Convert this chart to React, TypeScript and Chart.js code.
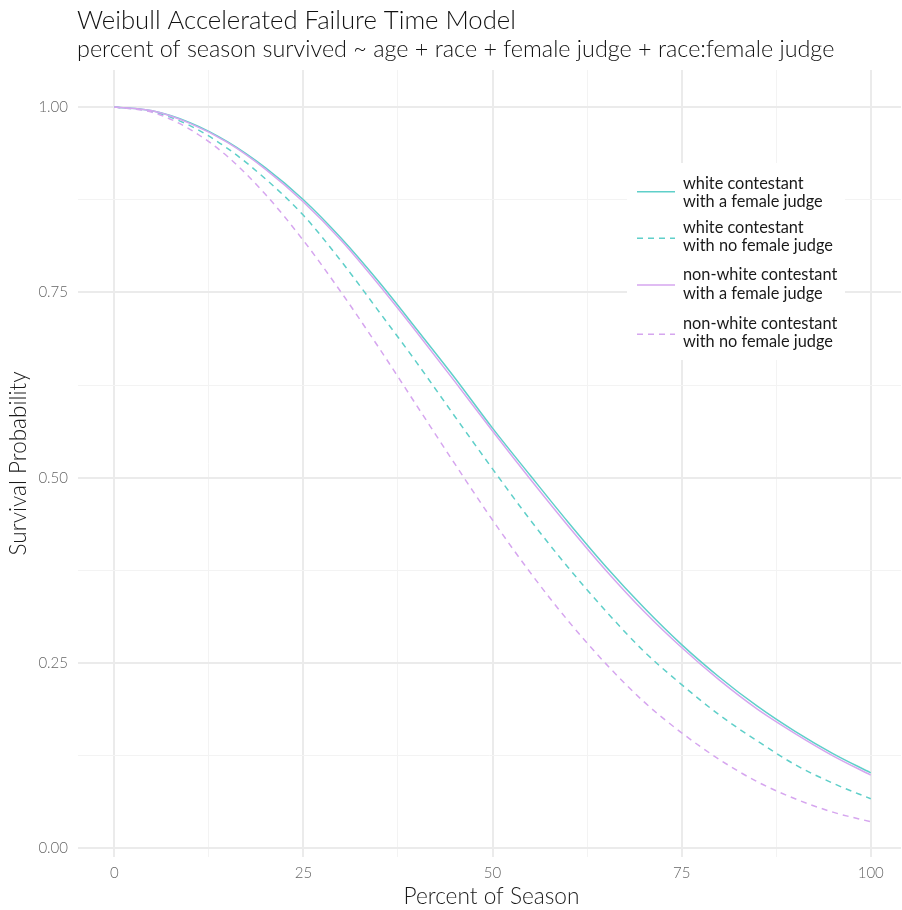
import React, { useEffect, useRef } from 'react';
import { Chart, registerables } from 'chart.js';

Chart.register(...registerables);

// ---------- data ----------
const percentSeason = [0, 5, 10, 15, 20, 25, 30, 35, 40, 45, 50, 55, 60, 65, 70, 75, 80, 85, 90, 95, 100];

const whiteFemaleJudge = [1.0, 0.995, 0.979, 0.953, 0.918, 0.875, 0.823, 0.764, 0.7, 0.635, 0.567, 0.503, 0.44, 0.38, 0.325, 0.275, 0.231, 0.192, 0.158, 0.128, 0.102];
const whiteNoFemaleJudge = [1.0, 0.994, 0.975, 0.944, 0.903, 0.854, 0.792, 0.724, 0.655, 0.583, 0.512, 0.443, 0.379, 0.32, 0.266, 0.221, 0.18, 0.145, 0.113, 0.088, 0.067];
const nonWhiteFemaleJudge = [1.0, 0.995, 0.978, 0.952, 0.916, 0.872, 0.82, 0.76, 0.696, 0.63, 0.563, 0.498, 0.435, 0.375, 0.32, 0.271, 0.227, 0.188, 0.155, 0.125, 0.099];
const nonWhiteNoFemaleJudge = [1.0, 0.993, 0.97, 0.933, 0.882, 0.82, 0.75, 0.675, 0.597, 0.519, 0.443, 0.372, 0.307, 0.249, 0.198, 0.156, 0.12, 0.09, 0.067, 0.049, 0.036];

const seriesLabels = [
  ['white contestant', 'with a female judge'],
  ['white contestant', 'with no female judge'],
  ['non-white contestant', 'with a female judge'],
  ['non-white contestant', 'with no female judge'],
];

const xMajorTicks = [0, 25, 50, 75, 100];
const xMinorTicks = [12.5, 37.5, 62.5, 87.5];
const yMajorTicks = [0, 0.25, 0.5, 0.75, 1];
const yMinorTicks = [0.125, 0.375, 0.625, 0.875];

const titleText = 'Weibull Accelerated Failure Time Model';
const subtitleText = 'percent of season survived ~ age + race + female judge + race:female judge';
const xTitleText = 'Percent of Season';
const yTitleText = 'Survival Probability';

// ---------- styles ----------
const FONT = 'Lato, "Open Sans", sans-serif';
const LIGHT = '300';
const REGULAR = '400';
const CYAN = '#5fcfc9';
const LAVENDER = '#d6a6ef';
const MAJOR_GRID = '#ebebeb';
const MINOR_GRID = '#f3f3f3';

const isMajorX = (v: number) => xMajorTicks.some((t) => Math.abs(t - v) < 1e-6);
const isMajorY = (v: number) => yMajorTicks.some((t) => Math.abs(t - v) < 1e-6);

function fittedSize(ctx: CanvasRenderingContext2D, text: string, target: number, base: number, weight: string) {
  ctx.font = `${weight} ${base}px ${FONT}`;
  const w = ctx.measureText(text).width;
  return (base * target) / w;
}

const textPlugin = {
  id: 'customTexts',
  afterDraw(chart: any) {
    const ctx: CanvasRenderingContext2D = chart.ctx;
    const area = chart.chartArea;
    ctx.save();
    ctx.fillStyle = '#111111';
    ctx.textAlign = 'left';
    ctx.textBaseline = 'alphabetic';

    // title
    let s = fittedSize(ctx, titleText, 439, 22, LIGHT);
    ctx.font = `${LIGHT} ${s}px ${FONT}`;
    ctx.fillText(titleText, 77, 28.5);

    // subtitle
    s = fittedSize(ctx, subtitleText, 758, 18, LIGHT);
    ctx.font = `${LIGHT} ${s}px ${FONT}`;
    ctx.fillText(subtitleText, 77, 56.5);

    // x title
    ctx.fillStyle = '#1a1a1a';
    s = fittedSize(ctx, xTitleText, 176, 17, LIGHT);
    ctx.font = `${LIGHT} ${s}px ${FONT}`;
    ctx.textAlign = 'center';
    ctx.fillText(xTitleText, (area.left + area.right) / 2 + 2, 903.5);

    // y title
    s = fittedSize(ctx, yTitleText, 184, 17, LIGHT);
    ctx.font = `${LIGHT} ${s}px ${FONT}`;
    ctx.save();
    ctx.translate(26, (area.top + area.bottom) / 2);
    ctx.rotate(-Math.PI / 2);
    ctx.fillText(yTitleText, 0, 0);
    ctx.restore();

    // legend
    const boxX = 627, boxY = 163, boxW = 218, boxH = 197;
    ctx.fillStyle = '#ffffff';
    ctx.fillRect(boxX, boxY, boxW, boxH);
    const keyY = [191.7, 238.3, 285, 334.3];
    const textY = [[184, 201.7], [227.7, 246], [275, 293.3], [324, 341.7]];
    const ls = fittedSize(ctx, 'with no female judge', 150, 14, REGULAR);
    [0, 1, 2, 3].forEach((di, i) => {
      const ds = chart.data.datasets[di];
      ctx.strokeStyle = ds.borderColor;
      ctx.lineWidth = ds.borderWidth;
      ctx.setLineDash(ds.borderDash || []);
      ctx.beginPath();
      ctx.moveTo(637, keyY[i]);
      ctx.lineTo(675, keyY[i]);
      ctx.stroke();
      ctx.setLineDash([]);
      ctx.fillStyle = '#1a1a1a';
      ctx.font = `${REGULAR} ${ls}px ${FONT}`;
      ctx.textAlign = 'left';
      ctx.textBaseline = 'middle';
      seriesLabels[i].forEach((line, j) => ctx.fillText(line, 683, textY[i][j]));
    });
    ctx.restore();
  },
};

export default function App() {
  const canvasRef = useRef<HTMLCanvasElement | null>(null);

  useEffect(() => {
    document.body.style.margin = '0';
    const canvas = canvasRef.current;
    if (!canvas) return;

    const toPoints = (ys: number[]) => percentSeason.map((x, i) => ({ x, y: ys[i] }));

    const chart = new Chart(canvas, {
      type: 'line',
      data: {
        datasets: [
          { label: seriesLabels[0].join(' '), data: toPoints(whiteFemaleJudge), borderColor: CYAN, borderWidth: 1.5, borderDash: [], order: 4 },
          { label: seriesLabels[1].join(' '), data: toPoints(whiteNoFemaleJudge), borderColor: CYAN, borderWidth: 1.5, borderDash: [6, 5], order: 3 },
          { label: seriesLabels[2].join(' '), data: toPoints(nonWhiteFemaleJudge), borderColor: LAVENDER, borderWidth: 1.5, borderDash: [], order: 2 },
          { label: seriesLabels[3].join(' '), data: toPoints(nonWhiteNoFemaleJudge), borderColor: LAVENDER, borderWidth: 1.5, borderDash: [6, 5], order: 1 },
        ].map((d) => ({ ...d, pointRadius: 0, fill: false, cubicInterpolationMode: 'monotone' as const })),
      },
      options: {
        responsive: false,
        animation: false,
        layout: { padding: { top: 70, left: 0, right: 1, bottom: 0 } },
        plugins: { legend: { display: false }, title: { display: false }, tooltip: { enabled: false } },
        scales: {
          x: {
            type: 'linear',
            min: -4.8,
            max: 104,
            afterBuildTicks: (scale: any) => {
              scale.ticks = [...xMajorTicks, ...xMinorTicks].sort((a, b) => a - b).map((v) => ({ value: v }));
            },
            afterFit: (scale: any) => {
              scale.height = 53;
            },
            grid: {
              drawTicks: false,
              color: (c: any) => (c.tick && isMajorX(c.tick.value) ? MAJOR_GRID : MINOR_GRID),
              lineWidth: (c: any) => (c.tick && isMajorX(c.tick.value) ? 2 : 1),
            },
            border: { display: false },
            ticks: {
              autoSkip: false,
              maxRotation: 0,
              padding: 7,
              color: '#666666',
              font: { family: FONT, size: 15, weight: LIGHT },
              callback: (v: any) => (isMajorX(Number(v)) ? String(v) : ''),
            },
          },
          y: {
            type: 'linear',
            min: -0.0115,
            max: 1.05,
            afterBuildTicks: (scale: any) => {
              scale.ticks = [...yMajorTicks, ...yMinorTicks].sort((a, b) => a - b).map((v) => ({ value: v }));
            },
            afterFit: (scale: any) => {
              scale.width = 78;
            },
            grid: {
              drawTicks: false,
              color: (c: any) => (c.tick && isMajorY(c.tick.value) ? MAJOR_GRID : MINOR_GRID),
              lineWidth: (c: any) => (c.tick && isMajorY(c.tick.value) ? 2 : 1),
            },
            border: { display: false },
            ticks: {
              autoSkip: false,
              padding: 10,
              color: '#666666',
              font: { family: FONT, size: 15, weight: LIGHT },
              callback: (v: any) => (isMajorY(Number(v)) ? Number(v).toFixed(2) : ''),
            },
          },
        },
      },
      plugins: [textPlugin],
    } as any);

    return () => chart.destroy();
  }, []);

  return (
    <div style={{ position: 'absolute', left: 0, top: 0, width: 902, height: 910, background: '#ffffff' }}>
      <canvas ref={canvasRef} width={902} height={910} style={{ display: 'block', width: 902, height: 910 }} />
    </div>
  );
}
